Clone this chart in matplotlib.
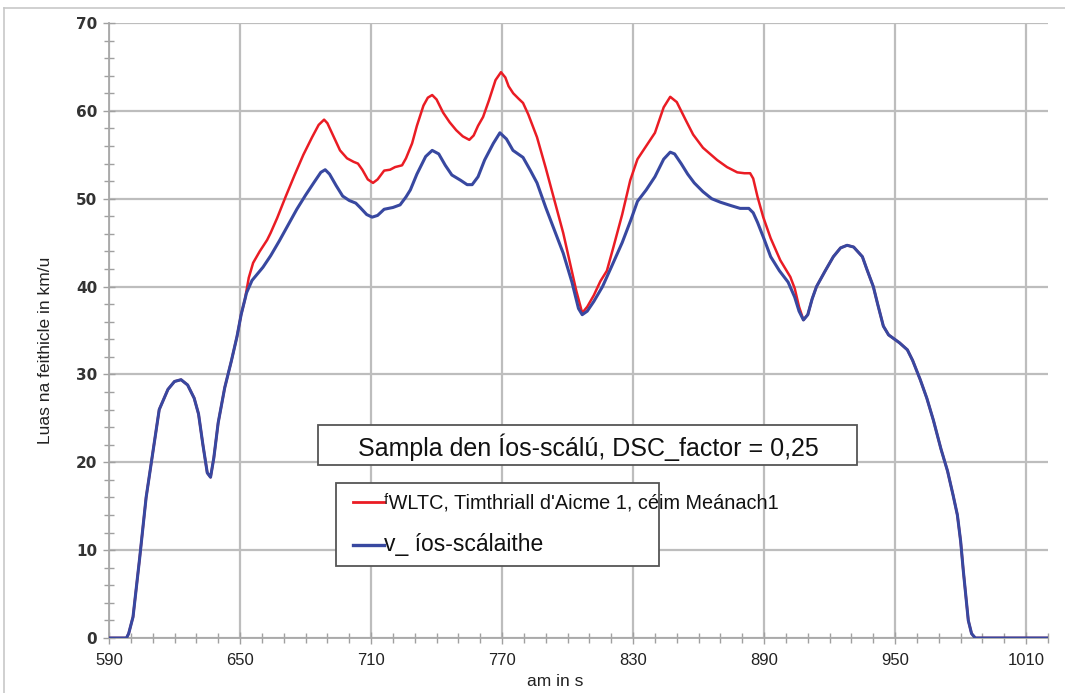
import matplotlib
matplotlib.use("Agg")
import matplotlib.pyplot as plt
from matplotlib.lines import Line2D
from matplotlib.patches import Rectangle
from matplotlib.ticker import MultipleLocator
import numpy as np

# ---------------- data ----------------
# shared start (both curves identical)
t_start = [590, 598, 599, 601, 604, 607, 610, 613, 617, 620, 623, 626, 629, 631, 633, 635,
           636.5, 638, 640, 643, 646, 648.6, 650.5]
v_start = [0, 0, 0.5, 2.4, 9, 16, 21, 26, 28.3, 29.2, 29.4, 28.8, 27.3, 25.5, 22, 18.8,
           18.3, 20.5, 24.5, 28.5, 31.5, 34.3, 36.8]

# downscaled middle part (blue)
t_blue_mid = [653, 655.5, 660.5, 664, 668, 672, 676, 680, 684, 687, 689, 691, 694, 697, 700,
              703, 705, 708, 710.5, 713, 716, 720, 723.3, 726, 728, 731, 735, 738, 741, 744,
              747, 751, 754, 756.3, 759, 762, 766, 769, 772, 775, 779.6, 783, 786, 790, 794,
              798, 802, 805, 806.7, 809, 812, 816, 820, 825, 829, 832, 836, 840, 844, 847,
              849, 852, 855, 858, 862, 866, 870, 875, 879, 883, 885, 887, 890, 893, 897, 901,
              904, 906, 908]
v_blue_mid = [39.3, 40.7, 42.2, 43.5, 45.2, 47, 48.8, 50.4, 51.9, 53, 53.3, 52.8, 51.5, 50.3,
              49.8, 49.5, 49, 48.2, 47.9, 48.1, 48.8, 49, 49.3, 50.2, 51, 52.8, 54.8, 55.5,
              55.1, 53.8, 52.7, 52.1, 51.6, 51.6, 52.5, 54.4, 56.3, 57.5, 56.8, 55.5, 54.7,
              53.2, 51.8, 49, 46.4, 43.8, 40.5, 37.5, 36.8, 37.2, 38.3, 40, 42.2, 45, 47.6,
              49.7, 51, 52.5, 54.5, 55.3, 55.1, 54, 52.8, 51.8, 50.8, 50, 49.6, 49.2, 48.9,
              48.9, 48.4, 47.3, 45.4, 43.4, 41.8, 40.5, 38.8, 37.2, 36.2]

# WLTC class 1 medium middle part (red)
t_red_mid = [652.3, 654, 656, 659, 662.4, 664, 667, 671, 675, 679, 683, 686, 688.5, 690, 693,
             695.8, 699, 702, 704, 706, 708.5, 710.9, 713, 716, 718.7, 721, 724.2, 726, 728.8,
             731, 734, 736, 738, 740, 743, 746, 749, 752, 755, 757, 759, 761.3, 764, 767,
             769.5, 771.5, 773, 775.1, 777.5, 779.6, 782, 784, 786, 790, 794, 798, 801, 804,
             806.7, 809, 812, 815, 818, 821, 825, 828.7, 832, 836, 840, 844, 847, 850, 854,
             857.5, 862, 868.5, 873, 877.7, 881, 883.6, 885, 887, 889.6, 893, 897.4, 902, 904,
             906, 908]
v_red_mid = [38.6, 41, 42.7, 44, 45.3, 46.1, 47.8, 50.3, 52.7, 55, 57, 58.4, 59, 58.6, 57,
             55.5, 54.6, 54.2, 54, 53.3, 52.2, 51.8, 52.2, 53.2, 53.3, 53.6, 53.8, 54.6, 56.3,
             58.3, 60.6, 61.5, 61.8, 61.3, 59.8, 58.7, 57.8, 57.1, 56.7, 57.2, 58.3, 59.3,
             61.2, 63.5, 64.4, 63.8, 62.8, 62, 61.4, 60.9, 59.6, 58.3, 57, 53.5, 49.8, 46.1,
             42.8, 39.5, 37, 37.7, 39, 40.6, 41.8, 44.5, 48.2, 52.1, 54.5, 56, 57.5, 60.4,
             61.6, 61, 59, 57.3, 55.8, 54.4, 53.6, 53, 52.9, 52.9, 52.3, 50.2, 47.9, 45.5, 43,
             41.1, 39.8, 37.7, 36.2]

# shared end (both curves identical)
t_end = [910, 912, 914, 918, 921.7, 925, 928, 931, 935, 937, 940, 942, 944.6, 947, 952, 955.6,
         958, 961.5, 964.5, 967.5, 971, 974, 976.5, 978.5, 980, 981.2, 982.5, 983.5, 985,
         986.7, 1020]
v_end = [36.8, 38.6, 40, 41.8, 43.4, 44.4, 44.7, 44.5, 43.4, 42, 40, 38, 35.5, 34.5, 33.6,
         32.8, 31.6, 29.4, 27.3, 24.8, 21.5, 19, 16.3, 14, 11, 7.7, 4.5, 2, 0.5, 0, 0]

t_blue = t_start + t_blue_mid + t_end
v_blue = v_start + v_blue_mid + v_end
t_red = t_start + t_red_mid + t_end
v_red = v_start + v_red_mid + v_end

label_red = "ᶠWLTC, Timthriall d'Aicme 1, céim Meánach1"
label_blue = "v_ íos-scálaithe"
box_text = "Sampla den Íos-scálú, DSC_factor = 0,25"
x_ticks = [590, 650, 710, 770, 830, 890, 950, 1010]
y_ticks = [0, 10, 20, 30, 40, 50, 60, 70]

# ---------------- figure ----------------
W, H = 1065, 693
fig = plt.figure(figsize=(W / 100, H / 100), dpi=100)
ax = fig.add_axes([109 / W, 1 - 638 / H, (1048 - 109) / W, (638 - 23) / H])

def px(x, y):
    return (x / W, 1 - y / H)

# outer frame (left + top)
fig.add_artist(Line2D([4 / W, 4 / W], [0, 1 - 8 / H], transform=fig.transFigure,
                      color="#c8c8c8", lw=1.2))
fig.add_artist(Line2D([4 / W, 1], [1 - 8 / H, 1 - 8 / H], transform=fig.transFigure,
                      color="#c8c8c8", lw=1.2))

grid_c = "#bdbdbd"
ax.set_xlim(590, 1020)
ax.set_ylim(0, 70)
ax.set_xticks(x_ticks)
ax.set_yticks(y_ticks)
ax.xaxis.set_minor_locator(MultipleLocator(10))
ax.yaxis.set_minor_locator(MultipleLocator(2))
ax.grid(True, which="major", color=grid_c, lw=1.6, zorder=0)
ax.set_axisbelow(True)
for s in ["top", "right"]:
    ax.spines[s].set_visible(False)
for s in ["left", "bottom"]:
    ax.spines[s].set_color("#a8a8a8")
    ax.spines[s].set_linewidth(1.3)

ax.tick_params(axis="both", which="both", direction="inout", color="#a0a0a0", width=1.0)
ax.tick_params(axis="both", which="major", length=9)
ax.tick_params(axis="both", which="minor", length=7)
ax.tick_params(axis="x", pad=6)
ax.tick_params(axis="y", pad=4)

sans = ["Liberation Sans", "DejaVu Sans"]
for lab in ax.get_xticklabels():
    lab.set_family(sans)
    lab.set_fontsize(12)
    lab.set_color("#222222")
for lab in ax.get_yticklabels():
    lab.set_family("DejaVu Sans")
    lab.set_fontsize(11)
    lab.set_color("#333333")
    lab.set_fontweight("bold")

ax.set_xlabel("am in s", family=sans, fontsize=12.5, color="#222222", va="center")
ax.xaxis.set_label_coords((555 - 109) / (1048 - 109), -(681 - 638) / (638 - 23))
ax.set_ylabel("Luas na feithicle in km/u", family=sans, fontsize=12.5, color="#222222")
ax.yaxis.set_label_coords(-(109 - 53) / (1048 - 109), (638 - 350) / (638 - 23))

# curves
red_c = "#ea1c24"
blue_c = "#3848a0"
ax.plot(t_red, v_red, color=red_c, lw=1.8, zorder=3, solid_joinstyle="round")
ax.plot(t_blue, v_blue, color=blue_c, lw=2.2, zorder=4, solid_joinstyle="round")

# title box
fig.add_artist(Rectangle(px(318, 465), (857 - 318) / W, (465 - 425) / H,
                         transform=fig.transFigure, facecolor="white",
                         edgecolor="#555555", lw=1.3, zorder=5))
fig.text(*px(588, 447), box_text, ha="center", va="center",
         family=sans, fontsize=18, color="#111111", zorder=6)

# legend box (manual)
fig.add_artist(Rectangle(px(336, 566), (659 - 336) / W, (566 - 483) / H,
                         transform=fig.transFigure, facecolor="white",
                         edgecolor="#555555", lw=1.3, zorder=5))
fig.add_artist(Line2D([353 / W, 384 / W], [1 - 502 / H] * 2, transform=fig.transFigure,
                      color=red_c, lw=2.0, zorder=6))
fig.add_artist(Line2D([353 / W, 384 / W], [1 - 545 / H] * 2, transform=fig.transFigure,
                      color=blue_c, lw=2.4, zorder=6))
fig.text(*px(384, 503), label_red, ha="left", va="center",
         family=sans, fontsize=14.3, color="#111111", zorder=7)
fig.text(*px(384, 545), label_blue, ha="left", va="center",
         family=sans, fontsize=16.5, color="#111111", zorder=7)

fig.savefig("out.png", dpi=100, facecolor="white")
